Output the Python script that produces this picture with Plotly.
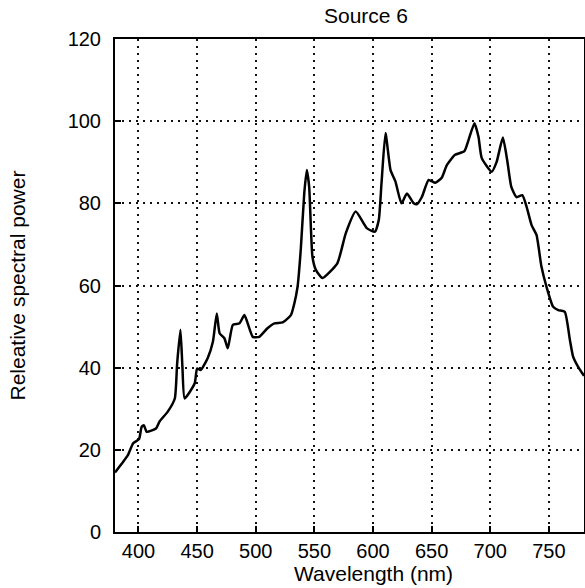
import plotly.graph_objects as go

wavelength = [380, 387, 391, 395.5, 400.5, 402.7, 404.6, 407, 415, 418, 425, 431, 433, 435.8,
              437.5, 439.4, 448, 450, 453, 459, 463.5, 466.8, 469.2, 473.4, 476.2, 480.5,
              486.2, 490.4, 497.5, 503, 510, 516, 523, 530, 533, 535.7, 538.5, 541.4, 543.6,
              545.6, 548.4, 551.3, 556.9, 569.6, 576.8, 585.3, 595, 601.7, 605, 607.3, 610.7,
              615, 619.2, 624.3, 629, 634.8, 637.6, 641.8, 647.5, 653.2, 658.8, 663, 670,
              678, 681.5, 686.6, 690, 692.8, 701.3, 705.5, 710.8, 714.5, 718, 722.5, 727.4,
              731, 735.3, 739.5, 743.7, 748, 753.7, 758, 763.6, 768, 770.7, 775, 780]
power = [14.5, 17.1, 18.7, 21.6, 22.6, 25.6, 26.0, 24.4, 25.2, 26.9, 29.3, 32.5, 41, 49.2,
         40.2, 32.5, 36.2, 39.8, 39.4, 42.3, 46.3, 53.2, 48.4, 47.1, 44.7, 50.4,
         50.8, 52.8, 47.5, 47.5, 49.6, 50.8, 51, 52.8, 55.7, 59.7, 69, 82.4, 88.1,
         84, 67, 63.8, 61.8, 65.4, 72.7, 78, 73.9, 73.1, 76, 84.9, 97.1,
         88.1, 85.3, 80, 82.4, 80, 79.8, 81.6, 85.7, 85, 86.3, 89.3, 91.8,
         92.7, 95.4, 99.5, 96.2, 91, 87.7, 90.1, 96, 90.5, 84, 81.5, 82,
         79.2, 74.7, 72.3, 64.6, 59.7, 54.8, 54, 53.6, 46.7, 42.7, 40.2, 38]

x_ticks = [400, 450, 500, 550, 600, 650, 700, 750]
y_ticks = [0, 20, 40, 60, 80, 100, 120]

title_text = "Source 6"
x_title = "Wavelength (nm)"
y_title = "Releative spectral power"

FONT = "Liberation Sans, Arial, sans-serif"

fig = go.Figure()
fig.add_trace(go.Scatter(
    x=wavelength, y=power, mode="lines",
    line=dict(color="black", width=2.5, shape="spline", smoothing=0.5),
    showlegend=False, hoverinfo="skip",
))

axis_common = dict(
    showgrid=True, gridcolor="#111", gridwidth=2, griddash="2px,5px",
    ticks="inside", ticklen=6, tickwidth=1.5, tickcolor="black",
    showline=True, linecolor="black", linewidth=2, mirror=True,
    zeroline=False, tickfont=dict(family=FONT, size=20, color="black"),
)

fig.update_xaxes(range=[380, 780], tickvals=x_ticks, **axis_common)
fig.update_yaxes(range=[0, 120], tickvals=y_ticks, ticklabelstandoff=8, **axis_common)

fig.update_layout(
    width=585, height=588,
    margin=dict(l=115, r=1, t=39, b=56, autoexpand=False),
    paper_bgcolor="white", plot_bgcolor="white",
    font=dict(family=FONT, color="black"),
    annotations=[
        dict(text=title_text, xref="paper", yref="paper", x=(366 - 115) / (584 - 115), y=1,
             xanchor="center", yanchor="bottom", yshift=10, showarrow=False,
             font=dict(family=FONT, size=21, color="black")),
        dict(text=x_title, xref="paper", yref="paper", x=(373 - 115) / (584 - 115), y=0,
             xanchor="center", yanchor="top", yshift=-28, showarrow=False,
             font=dict(family=FONT, size=21, color="black")),
        dict(text=y_title, xref="paper", yref="paper", x=0, y=0.5,
             xanchor="center", yanchor="middle", xshift=-98, textangle=-90,
             showarrow=False, font=dict(family=FONT, size=21, color="black")),
    ],
)

fig.write_html("out.html")
